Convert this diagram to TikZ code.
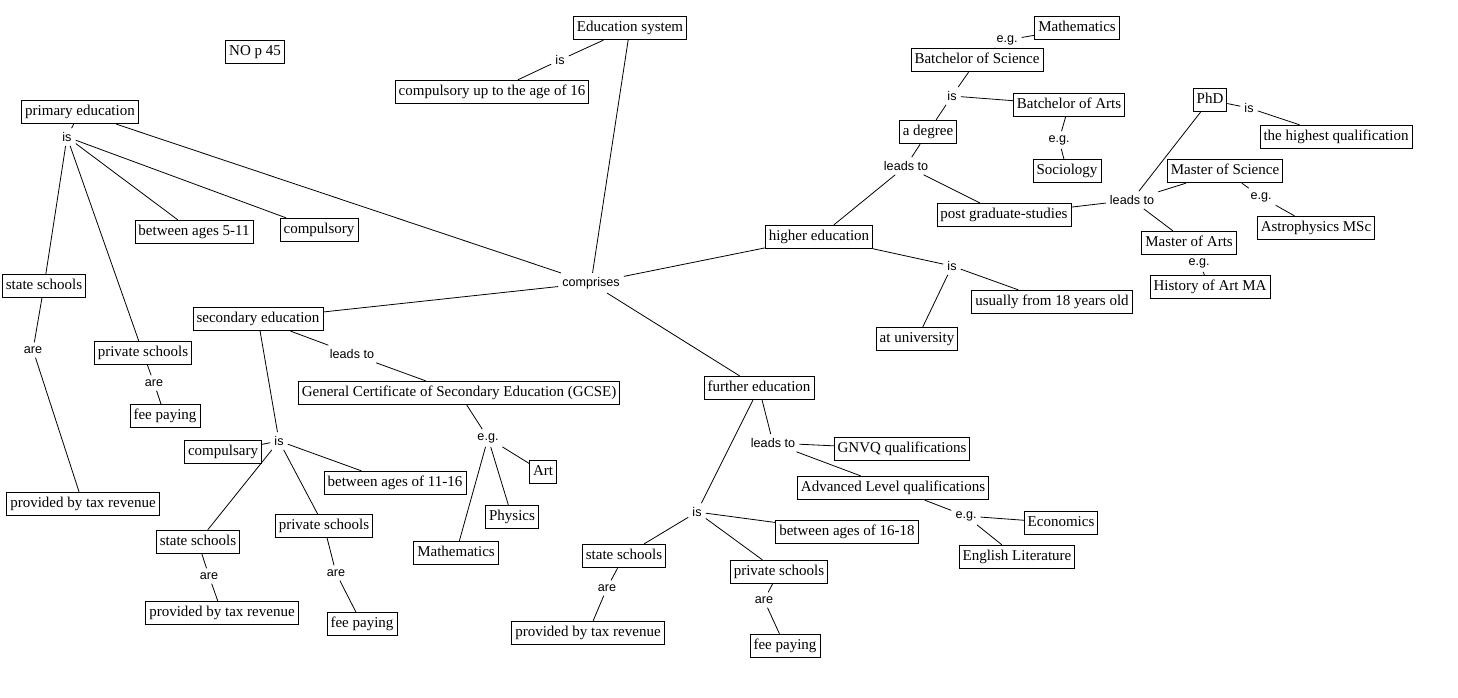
\documentclass[tikz,border=0pt]{standalone}
\usepackage{fontspec}
\setmainfont{Liberation Serif}
\newfontfamily\phrasefont{Liberation Sans}
\usepackage{tikz}
\usetikzlibrary{positioning}

\begin{document}
\begin{tikzpicture}[x=1pt, y=-1pt,
  box/.style={draw, line width=0.8pt, inner xsep=3.5pt, inner ysep=5pt,
    text height=10.5pt, text depth=3pt, font=\fontsize{15}{17}\selectfont},
  phrase/.style={inner sep=4pt, font=\phrasefont\fontsize{12.6}{14}\selectfont},
  conn/.style={line width=0.8pt}
]
\useasboundingbox (0,0) rectangle (1458,698);

% top and the centre
\node[box] (nop) at (255,52) {NO p 45};
\node[box] (edu) at (630,28) {Education system};
\node[phrase] (eduIs) at (560,60) {is};
\node[box] (compul16) at (492,92) {compulsory up to the age of 16};
\node[phrase] (comprises) at (591,283) {comprises};

% primary education
\node[box] (prim) at (80,112) {primary education};
\node[phrase] (primIs) at (67,137) {is};
\node[box] (prim511) at (194,232) {between ages 5-11};
\node[box] (primComp) at (319,230) {compulsory};
\node[box] (primState) at (44,286) {state schools};
\node[phrase] (primStateAre) at (33,350) {are};
\node[box] (primTax) at (83,504) {provided by tax revenue};
\node[box] (primPriv) at (143,353) {private schools};
\node[phrase] (primPrivAre) at (154,383) {are};
\node[box] (primFee) at (165,416) {fee paying};

% secondary education
\node[box] (sec) at (258,319) {secondary education};
\node[phrase] (secLeads) at (352,354) {leads to};
\node[box] (gcse) at (459,393) {General Certificate of Secondary Education (GCSE)};
\node[phrase] (gcseEg) at (488,438) {e.g.};
\node[box] (gcseArt) at (543,472) {Art};
\node[box] (gcsePhys) at (512,517) {Physics};
\node[box] (gcseMath) at (456,553) {Mathematics};
\node[phrase] (secIs) at (279,441) {is};
\node[box] (secComp) at (223,452) {compulsary};
\node[box] (sec1116) at (395,483) {between ages of 11-16};
\node[box] (secState) at (198,542) {state schools};
\node[phrase] (secStateAre) at (209,576) {are};
\node[box] (secTax) at (222,613) {provided by tax revenue};
\node[box] (secPriv) at (324,526) {private schools};
\node[phrase] (secPrivAre) at (336,573) {are};
\node[box] (secFee) at (362,624) {fee paying};

% higher education
\node[box] (high) at (819,237) {higher education};
\node[phrase] (highIs) at (952,266) {is};
\node[box] (high18) at (1052,302) {usually from 18 years old};
\node[box] (highUni) at (917,339) {at university};
\node[phrase] (highLeads) at (906,166) {leads to};
\node[box] (degree) at (928,132) {a degree};
\node[phrase] (degIs) at (952,96) {is};
\node[box] (bsc) at (977,60) {Batchelor of Science};
\node[phrase] (bscEg) at (1007,40) {e.g.};
\node[box] (bscMath) at (1077,28) {Mathematics};
\node[box] (ba) at (1069,105) {Batchelor of Arts};
\node[phrase] (baEg) at (1059,140) {e.g.};
\node[box] (baSoc) at (1067,171) {Sociology};
\node[box] (pg) at (1004,215) {post graduate-studies};
\node[phrase] (pgLeads) at (1132,200) {leads to};
\node[box] (phd) at (1210,100) {PhD};
\node[phrase] (phdIs) at (1249,108) {is};
\node[box] (phdTop) at (1336,137) {the highest qualification};
\node[box] (msc) at (1225,171) {Master of Science};
\node[phrase] (mscEg) at (1261,197) {e.g.};
\node[box] (mscAstro) at (1316,228) {Astrophysics MSc};
\node[box] (ma) at (1189,243) {Master of Arts};
\node[phrase] (maEg) at (1199,263) {e.g.};
\node[box] (maHist) at (1210,287) {History of Art MA};

% further education
\node[box] (further) at (759,388) {further education};
\node[phrase] (furLeads) at (773,443) {leads to};
\node[box] (gnvq) at (902,449) {GNVQ qualifications};
\node[box] (alevel) at (893,488) {Advanced Level qualifications};
\node[phrase] (alEg) at (966,516) {e.g.};
\node[box] (alEcon) at (1061,523) {Economics};
\node[box] (alEng) at (1017,557) {English Literature};
\node[phrase] (furIs) at (697,512) {is};
\node[box] (fur1618) at (847,532) {between ages of 16-18};
\node[box] (furState) at (624,556) {state schools};
\node[phrase] (furStateAre) at (607,588) {are};
\node[box] (furTax) at (588,633) {provided by tax revenue};
\node[box] (furPriv) at (779,572) {private schools};
\node[phrase] (furPrivAre) at (764,600) {are};
\node[box] (furFee) at (785,646) {fee paying};

% links
\draw[conn] (edu) -- (eduIs) -- (compul16);
\draw[conn] (edu) -- (comprises);
\draw[conn] (prim) -- (comprises);
\draw[conn] (comprises) -- (sec);
\draw[conn] (comprises) -- (high);
\draw[conn] (comprises) -- (further);

\draw[conn] (prim) -- (primIs);
\draw[conn] (primIs) -- (prim511);
\draw[conn] (primIs) -- (primComp);
\draw[conn] (primIs) -- (primState);
\draw[conn] (primIs) -- (primPriv);
\draw[conn] (primState) -- (primStateAre) -- (primTax);
\draw[conn] (primPriv) -- (primPrivAre) -- (primFee);

\draw[conn] (sec) -- (secLeads) -- (gcse);
\draw[conn] (gcse) -- (gcseEg);
\draw[conn] (gcseEg) -- (gcseArt);
\draw[conn] (gcseEg) -- (gcsePhys);
\draw[conn] (gcseEg) -- (gcseMath);
\draw[conn] (sec) -- (secIs);
\draw[conn] (secIs) -- (secComp);
\draw[conn] (secIs) -- (sec1116);
\draw[conn] (secIs) -- (secState);
\draw[conn] (secIs) -- (secPriv);
\draw[conn] (secState) -- (secStateAre) -- (secTax);
\draw[conn] (secPriv) -- (secPrivAre) -- (secFee);

\draw[conn] (high) -- (highIs);
\draw[conn] (highIs) -- (high18);
\draw[conn] (highIs) -- (highUni);
\draw[conn] (high) -- (highLeads);
\draw[conn] (highLeads) -- (degree);
\draw[conn] (highLeads) -- (pg);
\draw[conn] (degree) -- (degIs);
\draw[conn] (degIs) -- (bsc);
\draw[conn] (degIs) -- (ba);
\draw[conn] (bsc) -- (bscEg) -- (bscMath);
\draw[conn] (ba) -- (baEg) -- (baSoc);
\draw[conn] (pg) -- (pgLeads);
\draw[conn] (pgLeads) -- (phd);
\draw[conn] (pgLeads) -- (msc);
\draw[conn] (pgLeads) -- (ma);
\draw[conn] (phd) -- (phdIs) -- (phdTop);
\draw[conn] (msc) -- (mscEg) -- (mscAstro);
\draw[conn] (ma) -- (maEg) -- (maHist);

\draw[conn] (further) -- (furLeads);
\draw[conn] (furLeads) -- (gnvq);
\draw[conn] (furLeads) -- (alevel);
\draw[conn] (alevel) -- (alEg);
\draw[conn] (alEg) -- (alEcon);
\draw[conn] (alEg) -- (alEng);
\draw[conn] (further) -- (furIs);
\draw[conn] (furIs) -- (fur1618);
\draw[conn] (furIs) -- (furState);
\draw[conn] (furIs) -- (furPriv);
\draw[conn] (furState) -- (furStateAre) -- (furTax);
\draw[conn] (furPriv) -- (furPrivAre) -- (furFee);
\end{tikzpicture}
\end{document}
